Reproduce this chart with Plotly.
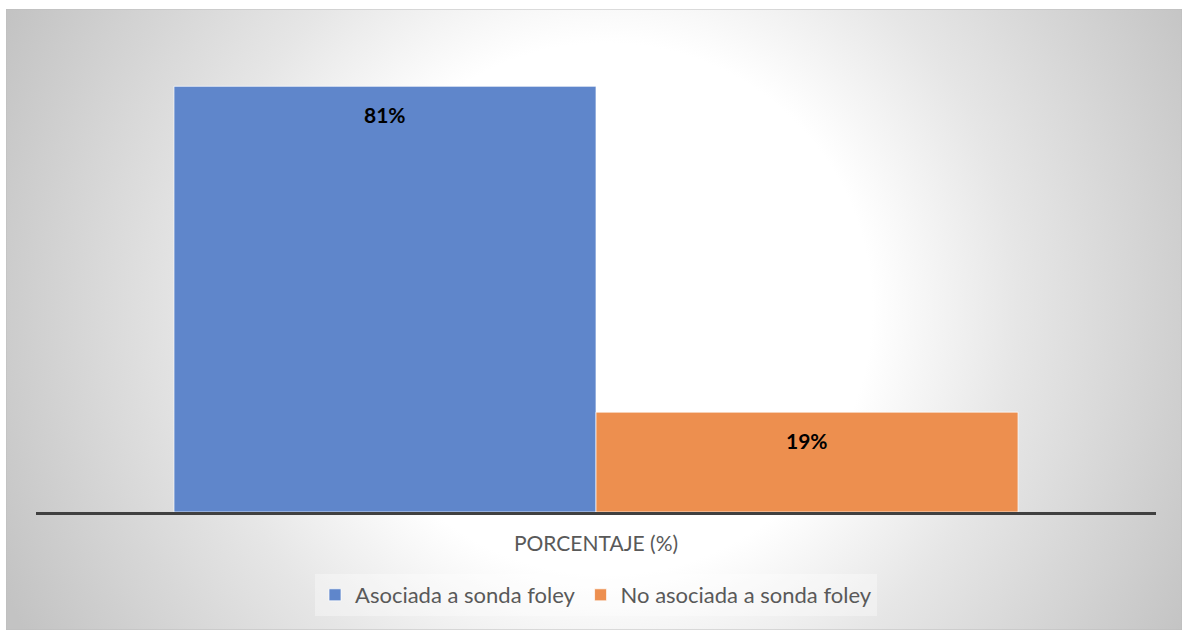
import base64
import plotly.graph_objects as go

# Data
categories = ["PORCENTAJE (%)"]
series_names = ["Asociada a sonda foley", "No asociada a sonda foley"]
series_values = [81, 19]
series_colors = ["#5F86CB", "#ED8F4F"]

FONT = "Lato"
W, H = 1182, 630
L, R, T, B = 36, 26, 39, 118
BARGAP = 0.2464

# Radial background panel (white core fading to grey)
bg_svg = f"""<svg xmlns='http://www.w3.org/2000/svg' width='1176' height='621' viewBox='0 0 1176 621' preserveAspectRatio='none'>
<defs><radialGradient id='g' gradientUnits='userSpaceOnUse' cx='600' cy='300' r='665'>
<stop offset='0.40' stop-color='#ffffff'/>
<stop offset='0.62' stop-color='#e6e6e6'/>
<stop offset='1' stop-color='#c3c3c3'/>
</radialGradient></defs>
<rect x='0' y='0' width='1176' height='621' fill='url(#g)' stroke='#bdbdbd' stroke-width='1'/>
</svg>"""
bg_uri = "data:image/svg+xml;base64," + base64.b64encode(bg_svg.encode()).decode()

pw, ph = W - L - R, H - T - B
fig = go.Figure()
for name, val, col in zip(series_names, series_values, series_colors):
    fig.add_trace(go.Bar(
        name=name, x=categories, y=[val],
        marker=dict(color=col, line=dict(color="rgba(255,255,255,0.7)", width=1)),
        hoverinfo="skip",
    ))

# value labels near the top of each bar
n = len(series_values)
bw = (1 - BARGAP) / n
for i, val in enumerate(series_values):
    fig.add_annotation(
        x=-(1 - BARGAP) / 2 + bw * (i + 0.5), y=val, xref="x", yref="y",
        text=f"<b>{val}%</b>", showarrow=False, yanchor="middle", yshift=-28,
        font=dict(family=FONT, size=21, color="#000000"),
    )

fig.add_layout_image(
    source=bg_uri, xref="paper", yref="paper",
    x=(6 - L) / pw, y=(H - B - 9) / ph, sizex=1176 / pw, sizey=621 / ph,
    xanchor="left", yanchor="top", sizing="stretch", layer="below",
)

fig.update_layout(
    width=W, height=H,
    margin=dict(l=L, r=R, t=T, b=B),
    paper_bgcolor="#ffffff", plot_bgcolor="rgba(0,0,0,0)",
    barmode="group", bargap=BARGAP, bargroupgap=0,
    font=dict(family=FONT, color="#595959"),
    xaxis=dict(showline=True, linecolor="#404040", linewidth=3, showgrid=False,
               ticks="", tickfont=dict(family=FONT, size=21, color="#595959"),
               ticklabelstandoff=11, fixedrange=True),
    yaxis=dict(range=[0, 90], visible=False, showgrid=False, zeroline=False, fixedrange=True),
    showlegend=True,
    legend=dict(orientation="h", x=0.5, xanchor="center", y=(H - B - 574) / ph, yanchor="top",
                bgcolor="rgba(255,255,255,0.35)", font=dict(family=FONT, size=22, color="#595959"),
                itemclick=False, itemdoubleclick=False, traceorder="normal"),
)

fig.write_html("out.html")
